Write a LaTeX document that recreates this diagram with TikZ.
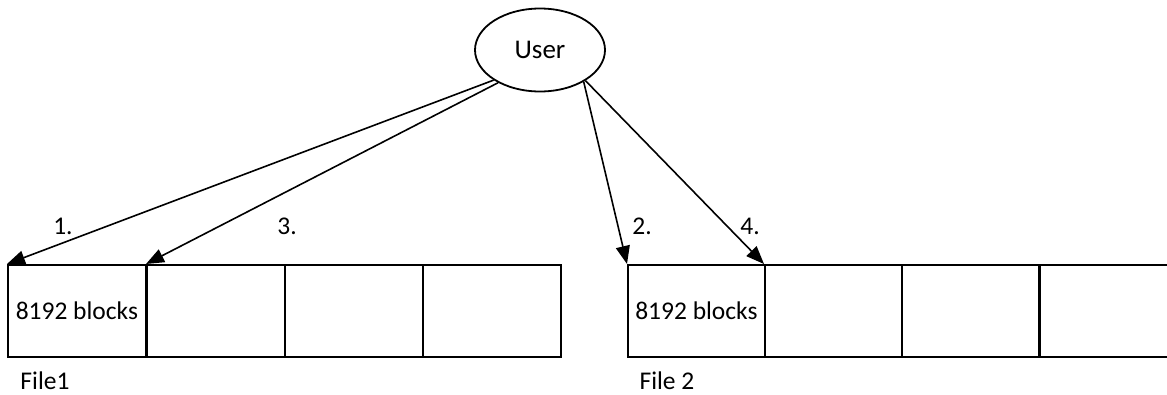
\documentclass[tikz,border=0pt]{standalone}
\usepackage{fontspec}
\setmainfont{Carlito}
\usetikzlibrary{arrows.meta,shapes.geometric}
\begin{document}
\begin{tikzpicture}[x=1pt,y=-1pt,
  every node/.style={font=\fontsize{25.5}{30}\selectfont},
  cell/.style={draw,line width=1.8pt,minimum width=138pt,minimum height=92pt,inner sep=0pt,anchor=north west},
  cellb/.style={cell,minimum width=137pt},
  conn/.style={line width=1.6pt,-{Triangle[length=18pt,width=14pt]}},
  lbl/.style={inner sep=0pt}]
\useasboundingbox (0,0) rectangle (1167,394);
\node[draw,ellipse,line width=1.8pt,minimum width=130pt,minimum height=83pt,inner sep=0pt,font=\fontsize{27}{32}\selectfont] (user) at (540,50) {User};
% File 1
\node[cell] (a1) at (7,264) {8192 blocks};
\node[cell] (a2) at (146,264) {};
\node[cell] (a3) at (284,264) {};
\node[cell] (a4) at (422,264) {};
% File 2
\node[cellb] (b1) at (627,264) {8192 blocks};
\node[cellb] (b2) at (764,264) {};
\node[cellb] (b3) at (901,264) {};
\node[cellb] (b4) at (1039,264) {};
% connectors
\draw[conn] (user.213) -- (a1.north west);
\draw[conn] (user.218) -- (a2.north west);
\draw[conn] (user.324) -- (b1.north west);
\draw[conn] (user.326) -- (b2.north west);
% labels
\node[lbl] (l1) at (63,226) {1.};
\node[lbl] (l3) at (287,226) {3.};
\node[lbl] (l2) at (642,226) {2.};
\node[lbl] (l4) at (750,226) {4.};
\node[lbl] (f1) at (45,381) {File1};
\node[lbl] (f2) at (667,381) {File 2};
\end{tikzpicture}
\end{document}
